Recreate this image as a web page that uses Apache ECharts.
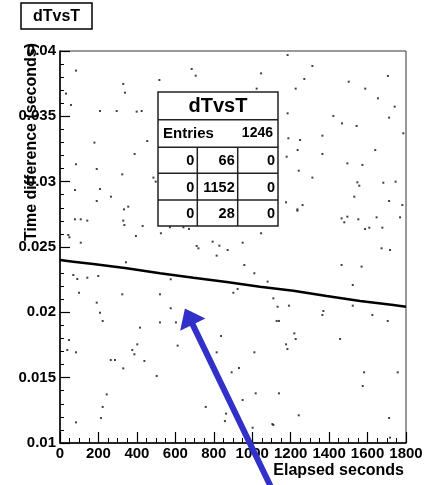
<!DOCTYPE html>
<html><head><meta charset="utf-8">
<script src="https://cdn.jsdelivr.net/npm/echarts@6/dist/echarts.min.js"></script>
<style>html,body{margin:0;padding:0;background:#fff}#c{width:426px;height:485px}</style>
</head><body><div id="c"></div>
<script>
const FONT = '"Liberation Sans", Arial, Helvetica, sans-serif';
const chartTitle = 'dTvsT';
const xAxisTitle = 'Elapsed seconds';
const yAxisTitle = 'Time difference (seconds)';
const xMin = 0, xMax = 1800, xStep = 200;
const yMin = 0.01, yMax = 0.04, yStep = 0.005;

// dense band (time difference drifting with elapsed time), read along the band
const bandT  = [0, 69, 173, 347, 520, 694, 867, 1040, 1214, 1387, 1561, 1734, 1800];
const bandDT = [0.02400, 0.02388, 0.02370, 0.02337, 0.02299, 0.02265, 0.02232, 0.02196, 0.02166, 0.02125, 0.02087, 0.02056, 0.02043];

// isolated entries
const scatterT = [
 83,329,338,517,685,706,1046,1023,1184,1313,1271,1226,1502,1588,1706,1654,1741,1712,1422,1467,1543,1184,208,295,399,425,57,31,
 179,454,388,83,191,324,486,498,78,208,265,191,355,333,1188,1249,1365,1786,1236,1365,1640,1179,1495,1573,1242,1313,1547,1557,1682,1746,1531,1712,1176,1262,1235,1781,
 78,108,142,329,335,430,43,49,108,395,525,572,642,671,711,720,794,829,872,815,950,1046,959,1011,1080,924,1465,1495,1479,1552,1647,1769,1587,1609,1677,1673,1717,1465,1569,1523,343,69,90,142,199,576,1235,
 99,324,520,902,191,208,222,576,520,603,416,47,38,83,402,376,387,264,286,439,329,612,838,815,931,1011,1110,1132,1191,1127,1139,1219,1226,1176,1183,1370,1365,1523,1625,1705,1457,
 503,893,1582,1757,243,222,83,213,758,864,858,950,1018,1139,1002,1105,1110,1242,1575,1712,1717
];
const scatterDT = [
 .03850,.03748,.03681,.03778,.03862,.03811,.03829,.03712,.03969,.03885,.03786,.03712,.03765,.03712,.03809,.03638,.03574,.03490,.03503,.03446,.03426,.03523,.03541,.03541,.03536,.03541,.03587,.03674,
 .03299,.03311,.03212,.03133,.03097,.03056,.03031,.03000,.02936,.02944,.02885,.02852,.02809,.02788,.03332,.03319,.03352,.03370,.03242,.03212,.03242,.03191,.03140,.03128,.03084,.03031,.02995,.02969,.02992,.03000,.02885,.02852,.02842,.02821,.02788,.02821,
 .02712,.02712,.02702,.02702,.02668,.02661,.02592,.02574,.02533,.02584,.02605,.02651,.02651,.02638,.02508,.02490,.02541,.02510,.02477,.02434,.02533,.02605,.02362,.02299,.02235,.02179,.02719,.02732,.02689,.02712,.02727,.02727,.02638,.02648,.02648,.02490,.02477,.02362,.02350,.02209,.02383,.02286,.02255,.02265,.02278,.02253,.02778,
 .02150,.02138,.02138,.02150,.02074,.01997,.01934,.02031,.01923,.01923,.01883,.01788,.01712,.01694,.01755,.01712,.01679,.01635,.01635,.01628,.01571,.01745,.01819,.01694,.01574,.01694,.02107,.02043,.02051,.01934,.01934,.01839,.01796,.01755,.01719,.02010,.01980,.02051,.01980,.01934,.01796,
 .01513,.01541,.01541,.01541,.01372,.01276,.01158,.01191,.01276,.01225,.01168,.01329,.01380,.01380,.01117,.01145,.01138,.01212,.01436,.01191,.01041
];

// statistics box
const statsName = 'dTvsT';
const statsEntriesLabel = 'Entries';
const statsEntries = 1246;
const statsRowTop = [0, 66, 0];
const statsRowMid = [0, 1152, 0];
const statsRowBot = [0, 28, 0];

// annotation arrow (data coordinates)
const arrowTip = [650, 0.0203];
const arrowTail = [1105, 0.0064];

const chart = echarts.init(document.getElementById('c'), null, {renderer: 'canvas'});

const axisCommon = {
  type: 'value',
  splitLine: {show: false},
  minorSplitLine: {show: false},
  axisLine: {show: true, onZero: false, lineStyle: {color: '#000', width: 1.5}},
  axisLabel: {color: '#000', fontFamily: FONT, fontWeight: 'bold', fontSize: 15}
};

chart.setOption({
  animation: false,
  backgroundColor: '#fff',
  grid: {left: 60, right: 20, top: 51, bottom: 42, show: true, borderColor: '#333', borderWidth: 1, backgroundColor: 'transparent'},
  xAxis: Object.assign({}, axisCommon, {
    min: xMin, max: xMax, interval: xStep,
    axisTick: {show: true, inside: true, length: 11, lineStyle: {color: '#000', width: 1.2}},
    minorTick: {show: true, splitNumber: 4, length: 5, lineStyle: {color: '#000', width: 1}},
    axisLabel: Object.assign({}, axisCommon.axisLabel, {margin: 3, formatter: v => String(v)})
  }),
  yAxis: Object.assign({}, axisCommon, {
    min: yMin, max: yMax, interval: yStep,
    axisTick: {show: true, inside: true, length: 10, lineStyle: {color: '#000', width: 1.2}},
    minorTick: {show: true, splitNumber: 5, length: 4, lineStyle: {color: '#000', width: 1}},
    axisLabel: Object.assign({}, axisCommon.axisLabel, {margin: 4, formatter: v => String(parseFloat(v.toFixed(4)))})
  }),
  series: [
    {type: 'line', data: bandT.map((t, i) => [t, bandDT[i]]), showSymbol: false, symbol: 'none',
     lineStyle: {color: '#000', width: 2.5}, z: 3},
    {type: 'scatter', data: scatterT.map((t, i) => [t, scatterDT[i]]), symbol: 'rect', symbolSize: 2,
     itemStyle: {color: '#111'}, z: 2}
  ]
});

// annotations
const tip = chart.convertToPixel({gridIndex: 0}, arrowTip);
const tail = chart.convertToPixel({gridIndex: 0}, arrowTail);
const dx = tip[0] - tail[0], dy = tip[1] - tail[1];
const len = Math.hypot(dx, dy);
const ux = dx / len, uy = dy / len, nx = -uy, ny = ux;
const headLen = 18, headHalf = 14;
const bx = tip[0] - ux * headLen, by = tip[1] - uy * headLen;
const arrowColor = '#3131c9';

const sx = 158, sy = 92, sw = 120, sh = 134;
const rowY = [0, 27.7, 55.3, 81.3, 108, 134];
const colX = [0, 39.3, 79.7, 120];
const rows = [statsRowTop, statsRowMid, statsRowBot];
const statsChildren = [
  {type: 'rect', shape: {x: 0, y: 0, width: sw, height: sh}, style: {fill: '#fff', stroke: '#222', lineWidth: 1.5}},
  {type: 'line', shape: {x1: 0, y1: rowY[1], x2: sw, y2: rowY[1]}, style: {stroke: '#222', lineWidth: 1.5}},
  {type: 'line', shape: {x1: 0, y1: rowY[2], x2: sw, y2: rowY[2]}, style: {stroke: '#222', lineWidth: 1.5}},
  {type: 'line', shape: {x1: 0, y1: rowY[3], x2: sw, y2: rowY[3]}, style: {stroke: '#222', lineWidth: 1.5}},
  {type: 'line', shape: {x1: 0, y1: rowY[4], x2: sw, y2: rowY[4]}, style: {stroke: '#222', lineWidth: 1.5}},
  {type: 'line', shape: {x1: colX[1], y1: rowY[2], x2: colX[1], y2: sh}, style: {stroke: '#222', lineWidth: 1.5}},
  {type: 'line', shape: {x1: colX[2], y1: rowY[2], x2: colX[2], y2: sh}, style: {stroke: '#222', lineWidth: 1.5}},
  {type: 'text', x: sw / 2, y: rowY[1] / 2 + 1, style: {text: statsName, font: 'bold 20px ' + FONT, fill: '#000', align: 'center', verticalAlign: 'middle'}},
  {type: 'text', x: 5, y: (rowY[1] + rowY[2]) / 2, style: {text: statsEntriesLabel, font: 'bold 15px ' + FONT, fill: '#000', align: 'left', verticalAlign: 'middle'}},
  {type: 'text', x: sw - 5, y: (rowY[1] + rowY[2]) / 2, style: {text: String(statsEntries), font: 'bold 14px ' + FONT, fill: '#000', align: 'right', verticalAlign: 'middle'}}
];
rows.forEach((r, ri) => {
  r.forEach((v, ci) => {
    statsChildren.push({type: 'text', x: colX[ci + 1] - 3, y: (rowY[ri + 2] + rowY[ri + 3]) / 2 + 1,
      style: {text: String(v), font: 'bold 14.5px ' + FONT, fill: '#000', align: 'right', verticalAlign: 'middle'}});
  });
});

chart.setOption({
  graphic: [
    {type: 'group', x: 21, y: 3, z: 100, children: [
      {type: 'rect', shape: {x: 0, y: 0, width: 71, height: 26}, style: {fill: '#fff', stroke: '#000', lineWidth: 1.5}},
      {type: 'text', x: 35.5, y: 13.5, style: {text: chartTitle, font: 'bold 16px ' + FONT, fill: '#000', align: 'center', verticalAlign: 'middle'}}
    ]},
    {type: 'text', x: 32, y: 43, rotation: Math.PI / 2, z: 100,
     style: {text: yAxisTitle, font: 'bold 16px ' + FONT, fill: '#000', align: 'right', verticalAlign: 'middle'}},
    {type: 'text', x: 404, y: 471, z: 100,
     style: {text: xAxisTitle, font: 'bold 16px ' + FONT, fill: '#000', align: 'right', verticalAlign: 'middle'}},
    {type: 'group', x: sx, y: sy, z: 100, children: statsChildren},
    {type: 'line', z: 110, shape: {x1: tail[0], y1: tail[1], x2: bx + ux * 2, y2: by + uy * 2},
     style: {stroke: arrowColor, lineWidth: 6}},
    {type: 'polygon', z: 111, shape: {points: [[tip[0], tip[1]], [bx + nx * headHalf, by + ny * headHalf], [bx - nx * headHalf, by - ny * headHalf]]},
     style: {fill: arrowColor}}
  ]
});
</script></body></html>
